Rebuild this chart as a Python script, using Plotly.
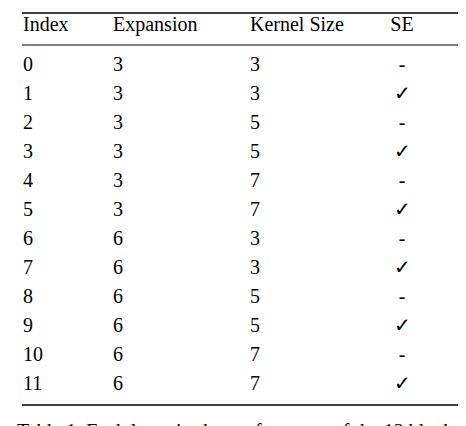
import plotly.graph_objects as go

headers = ["Index", "Expansion", "Kernel Size", "SE"]
index = [str(i) for i in range(12)]
expansion = ["3"] * 6 + ["6"] * 6
kernel = ["3", "3", "5", "5", "7", "7"] * 2
se = ["-", "✓"] * 6

W, H = 466, 426
font = dict(family="Liberation Serif", size=20, color="black")

fig = go.Figure(go.Table(
    domain=dict(x=[0, 416 / W], y=[0, 1]),
    columnwidth=[90, 137, 138, 44],
    header=dict(values=headers, height=40, align=["left", "left", "left", "center"],
                font=font, fill_color="white", line_color="white"),
    cells=dict(values=[index, expansion, kernel, se], height=29,
               align=["left", "left", "left", "center"],
               font=font, fill_color="white", line_color="white"),
))

def rule(y, w):
    fig.add_shape(type="line", xref="paper", yref="paper", x0=7 / W, x1=459 / W,
                  y0=1 - y / H, y1=1 - y / H, line=dict(color="black", width=w))

rule(5, 1.6)
rule(37, 1)
rule(397, 1.6)

fig.add_annotation(xref="paper", yref="paper", x=0, y=1 - 410 / H, xanchor="left", yanchor="top",
                   text="Table 1. Each layer is chosen from one of the 12 blocks",
                   showarrow=False, font=font)

fig.update_layout(width=W, height=H, margin=dict(l=7, r=0, t=0, b=0),
                  paper_bgcolor="white", plot_bgcolor="white")
fig.write_html("out.html")
